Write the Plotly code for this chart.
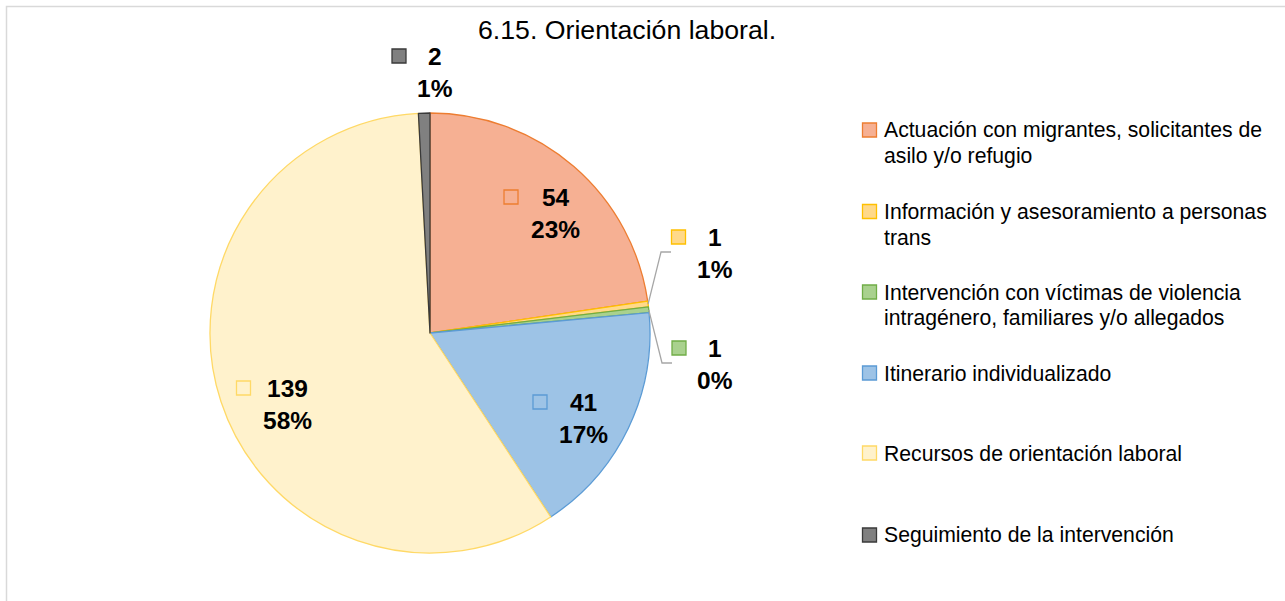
import math
import plotly.graph_objects as go

# --- data -------------------------------------------------------------
categories = [
    "Actuación con migrantes, solicitantes de asilo y/o refugio",
    "Información y asesoramiento a personas trans",
    "Intervención con víctimas de violencia intragénero, familiares y/o allegados",
    "Itinerario individualizado",
    "Recursos de orientación laboral",
    "Seguimiento de la intervención",
]
legend_lines = [
    ["Actuación con migrantes, solicitantes de", "asilo y/o refugio"],
    ["Información y asesoramiento a personas", "trans"],
    ["Intervención con víctimas de violencia", "intragénero, familiares y/o allegados"],
    ["Itinerario individualizado"],
    ["Recursos de orientación laboral"],
    ["Seguimiento de la intervención"],
]
values = [54, 1, 1, 41, 139, 2]
percent_labels = ["23%", "1%", "0%", "17%", "58%", "1%"]

# --- styling ----------------------------------------------------------
fills = ["#F6B093", "#FFD98A", "#A9D18E", "#9DC3E6", "#FFF2CC", "#808080"]
edges = ["#ED7D31", "#FFC000", "#70AD47", "#5B9BD5", "#FFD966", "#3A3A3A"]

W, H = 1285, 601
CX, CY, R = 430, 333, 220          # pie centre / radius in pixels
FONT = "Liberation Sans, Arial, sans-serif"


def px(x):
    return x / W


def py(y):
    return 1 - y / H


# data-label block centres (pixels) and horizontal offset of each key square
label_pos = [(555, 213), (715, 253), (715, 364), (583, 418), (287, 404), (435, 72)]
key_dx = [-44, -36.5, -36, -43, -43.5, -36]
key_dy = -16
# elbow of the leader lines for the two tiny slices
leaders = {1: [(661, 252), (671, 252)], 2: [(662, 363), (672, 363)]}

fig = go.Figure(
    go.Pie(
        labels=categories,
        values=values,
        sort=False,
        direction="clockwise",
        rotation=0,
        textinfo="none",
        hoverinfo="label+value+percent",
        showlegend=False,
        marker=dict(colors=fills, line=dict(color=edges, width=1.3)),
        domain=dict(x=[px(CX - R), px(CX + R)], y=[py(CY + R), py(CY - R)]),
    )
)

shapes = []
annotations = []

# outer frame
shapes.append(dict(type="rect", xref="paper", yref="paper",
                   x0=px(6.5), x1=1.02, y0=-0.02, y1=py(6.5),
                   line=dict(color="#D9D9D9", width=1.5), fillcolor="rgba(0,0,0,0)",
                   layer="below"))

total = sum(values)
cum = 0
for i, v in enumerate(values):
    mid = 2 * math.pi * (cum + v / 2) / total
    cum += v
    lx, ly = label_pos[i]
    # value / percentage label
    annotations.append(dict(
        x=px(lx), y=py(ly), xref="paper", yref="paper",
        text=f"<b>{v}</b><br><b>{percent_labels[i]}</b>",
        showarrow=False, xanchor="center", yanchor="middle",
        font=dict(family=FONT, size=24.5, color="#000000"),
    ))
    # key square beside the label
    kx, ky = lx + key_dx[i], ly + key_dy
    shapes.append(dict(type="rect", xref="paper", yref="paper",
                       x0=px(kx - 7), x1=px(kx + 7), y0=py(ky + 7), y1=py(ky - 7),
                       fillcolor=fills[i], line=dict(color=edges[i], width=1.3)))
    # leader line from the slice edge
    if i in leaders:
        sx = CX + R * math.sin(mid)
        sy = CY - R * math.cos(mid)
        pts = [(sx, sy)] + leaders[i]
        path = "M " + " L ".join(f"{px(a):.5f},{py(b):.5f}" for a, b in pts)
        shapes.append(dict(type="path", xref="paper", yref="paper", path=path,
                           line=dict(color="#A6A6A6", width=1.3)))

# legend drawn on the right
legend_y = [130, 211.5, 292, 373, 453, 535]
for i, lines in enumerate(legend_lines):
    y0 = legend_y[i]
    shapes.append(dict(type="rect", xref="paper", yref="paper",
                       x0=px(862.5), x1=px(876.5), y0=py(y0 + 7), y1=py(y0 - 7),
                       fillcolor=fills[i], line=dict(color=edges[i], width=1.3)))
    for j, line in enumerate(lines):
        annotations.append(dict(
            x=px(882), y=py(y0 + 25.5 * j), xref="paper", yref="paper",
            text=line, showarrow=False, xanchor="left", yanchor="middle",
            font=dict(family=FONT, size=21.2, color="#000000"),
        ))

# title
annotations.append(dict(
    x=px(626.5), y=py(30), xref="paper", yref="paper",
    text="6.15. Orientación laboral.", showarrow=False,
    xanchor="center", yanchor="middle",
    font=dict(family=FONT, size=26.7, color="#000000"),
))

fig.update_layout(
    width=W, height=H,
    margin=dict(l=0, r=0, t=0, b=0),
    paper_bgcolor="#FFFFFF",
    plot_bgcolor="#FFFFFF",
    shapes=shapes,
    annotations=annotations,
)

fig.write_html("out.html")
